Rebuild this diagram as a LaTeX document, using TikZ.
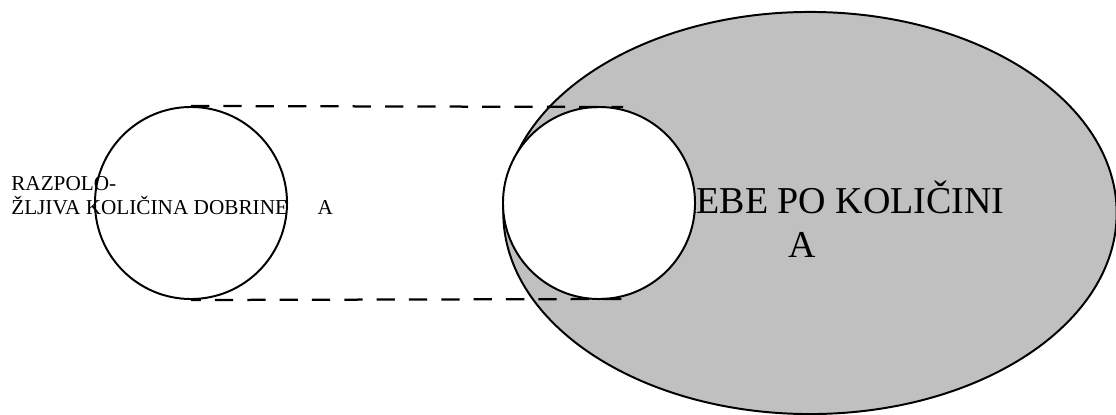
\documentclass[tikz,border=0pt]{standalone}
\usepackage{fontspec}
\setmainfont{Liberation Serif}
\usetikzlibrary{shapes.geometric}
\definecolor{needgray}{RGB}{192,192,192}

\begin{document}
\begin{tikzpicture}[x=0.025cm, y=-0.025cm,
    outline/.style={draw=black, line width=1.4pt},
    gap/.style={black, line width=1.6pt, dash pattern=on 13pt off 10pt}]
    \useasboundingbox (0,0) rectangle (1116,414);
    % Needs
    \node[ellipse, outline, fill=needgray, minimum width=15.33cm, minimum height=10.05cm, inner sep=0] (needs) at (810,213) {};
    \node[font=\fontsize{27}{30.6}\selectfont, align=center, anchor=base, inner sep=0] (needtext) at (802,257) {POTREBE PO KOLIČINI\\A};
    % Supply inside the needs
    \node[circle, outline, fill=white, minimum size=4.8cm, inner sep=0] (inner) at (599,203) {};
    % Available supply
    \node[circle, outline, minimum size=4.8cm, inner sep=0] (supply) at (191,203) {};
    \node[font=\fontsize{15.1}{17}\selectfont, align=left, anchor=base west, inner sep=0] (supplytext) at (11,214) {RAZPOLO-\\ŽLJIVA KOLIČINA DOBRINE\hspace{21pt}A};
    % Projection
    \coordinate (topend) at (623,107);
    \coordinate (botend) at (623,299);
    \draw[gap] (supply.north) -- (topend);
    \draw[gap, dash phase=6pt] (supply.south) -- (botend);
\end{tikzpicture}
\end{document}
